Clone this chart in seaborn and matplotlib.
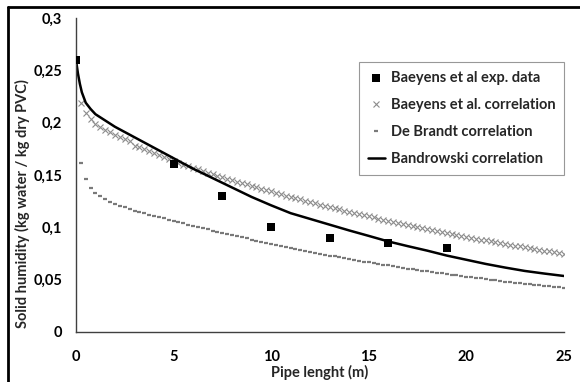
import numpy as np
import pandas as pd
import matplotlib
matplotlib.use("Agg")
import matplotlib.pyplot as plt
from matplotlib.lines import Line2D
import seaborn as sns

# ----------------------------
# DATA
# ----------------------------

# Baeyens et al experimental points
exp_x = [0, 5, 7.5, 10, 13, 16, 19]
exp_y = [0.26, 0.16, 0.13, 0.10, 0.09, 0.085, 0.08]

# both correlations are sampled every 0.25 m from 0.25 to 25 m
corr_x = np.arange(1, 101) * 0.25

baeyens_y = [
    0.219, 0.209, 0.203, 0.199, 0.196, 0.193, 0.191, 0.188, 0.186, 0.184,
    0.182, 0.178, 0.1765, 0.1745, 0.1725, 0.1705, 0.1687, 0.1668, 0.1649, 0.1630,
    0.1615, 0.1599, 0.1584, 0.1568, 0.1553, 0.1538, 0.1523, 0.1508, 0.1494, 0.1479,
    0.1465, 0.1450, 0.1436, 0.1422, 0.1409, 0.1395, 0.1382, 0.1368, 0.1355, 0.1342,
    0.1329, 0.1316, 0.1303, 0.1290, 0.1278, 0.1266, 0.1253, 0.1241, 0.1229, 0.1217,
    0.1205, 0.1193, 0.1182, 0.1171, 0.1159, 0.1148, 0.1137, 0.1126, 0.1115, 0.1104,
    0.1094, 0.1083, 0.1073, 0.1062, 0.1052, 0.1042, 0.1031, 0.1021, 0.1011, 0.1001,
    0.0992, 0.0982, 0.0973, 0.0964, 0.0954, 0.0945, 0.0936, 0.0927, 0.0918, 0.0909,
    0.0900, 0.0891, 0.0883, 0.0874, 0.0866, 0.0858, 0.0849, 0.0841, 0.0833, 0.0825,
    0.0817, 0.0809, 0.0801, 0.0794, 0.0786, 0.0778, 0.0770, 0.0763, 0.0755, 0.0748,
]

debrandt_y = [
    0.161, 0.146, 0.138, 0.133, 0.130, 0.127, 0.1245, 0.122, 0.1205, 0.119,
    0.1175, 0.116, 0.1148, 0.1135, 0.1122, 0.111, 0.1098, 0.1085, 0.1073, 0.106,
    0.1048, 0.1037, 0.1025, 0.1013, 0.1002, 0.0990, 0.0979, 0.0968, 0.0957, 0.0946,
    0.0936, 0.0925, 0.0914, 0.0903, 0.0893, 0.0882, 0.0872, 0.0862, 0.0851, 0.0841,
    0.0831, 0.0821, 0.0812, 0.0802, 0.0793, 0.0783, 0.0774, 0.0765, 0.0756, 0.0748,
    0.0739, 0.0730, 0.0722, 0.0714, 0.0705, 0.0697, 0.0689, 0.0681, 0.0673, 0.0665,
    0.0657, 0.0650, 0.0642, 0.0635, 0.0628, 0.0620, 0.0613, 0.0606, 0.0599, 0.0593,
    0.0586, 0.0579, 0.0573, 0.0566, 0.0560, 0.0553, 0.0547, 0.0540, 0.0534, 0.0528,
    0.0522, 0.0516, 0.0511, 0.0505, 0.0499, 0.0493, 0.0488, 0.0482, 0.0477, 0.0472,
    0.0466, 0.0461, 0.0456, 0.0451, 0.0445, 0.0440, 0.0435, 0.0430, 0.0425, 0.0420,
]

# Bandrowski correlation (solid line)
band_x = [0, 0.1, 0.2, 0.3, 0.5, 0.75, 1, 1.5, 2, 2.5, 3, 3.5, 4, 4.5, 5,
          6, 7, 8, 9, 10, 11, 12, 13, 14, 15, 16, 17, 18, 19, 20, 21, 22, 23, 24, 25]
band_y = [0.26, 0.247, 0.237, 0.229, 0.219, 0.213, 0.208, 0.202, 0.196, 0.191,
          0.186, 0.181, 0.176, 0.171, 0.166, 0.156, 0.147, 0.138, 0.129, 0.121,
          0.1135, 0.108, 0.1025, 0.097, 0.0918, 0.0865, 0.082, 0.0777, 0.073, 0.069,
          0.065, 0.0615, 0.0583, 0.0558, 0.0535]

x_ticks = [0, 5, 10, 15, 20, 25]
y_ticks = [0, 0.05, 0.1, 0.15, 0.2, 0.25, 0.3]
y_tick_labels = ["0", "0,05", "0,1", "0,15", "0,2", "0,25", "0,3"]

# ----------------------------
# PLOT
# ----------------------------

sns.set_style("white")
plt.rcParams['font.family'] = ['Lato', 'DejaVu Sans']

fig = plt.figure(figsize=(5.8, 3.82), dpi=100)
ax = fig.add_axes([0.131, 0.131, 0.841, 0.822])

sns.lineplot(x=corr_x, y=baeyens_y, ax=ax, linestyle="none", marker="x",
             markersize=5, markeredgewidth=0.8, markeredgecolor="#8c8c8c",
             color="#8c8c8c", label="Baeyens et al. correlation")
sns.lineplot(x=corr_x, y=debrandt_y, ax=ax, linestyle="none", marker="_",
             markersize=3.2, markeredgewidth=1.6, markeredgecolor="#7a7a7a",
             color="#7a7a7a", label="De Brandt correlation")
sns.lineplot(x=band_x, y=band_y, ax=ax, color="black", linewidth=1.8,
             label="Bandrowski correlation")
sns.scatterplot(x=exp_x, y=exp_y, ax=ax, marker="s", s=30, color="black",
                edgecolor="black", linewidth=0, zorder=5,
                label="Baeyens et al exp. data")

ax.set_xlim(0, 25)
ax.set_ylim(0, 0.3)
ax.set_xticks(x_ticks)
ax.set_xticklabels([str(t) for t in x_ticks])
ax.set_yticks(y_ticks)
ax.set_yticklabels(y_tick_labels)

for side in ["top", "right"]:
    ax.spines[side].set_visible(False)
for side in ["left", "bottom"]:
    ax.spines[side].set_color("#404040")
    ax.spines[side].set_linewidth(1.0)

ax.tick_params(axis="both", direction="out", length=4, width=1, color="#404040",
               labelsize=10.5, labelcolor="black")
ax.tick_params(axis="x", pad=9)
ax.tick_params(axis="y", pad=6)
for lab in ax.get_xticklabels() + ax.get_yticklabels():
    lab.set_fontweight("bold")

ax.set_xlabel("Pipe lenght (m)", fontsize=10.5, fontweight="bold")
ax.set_ylabel("Solid humidity (kg water / kg dry PVC)", fontsize=10.5, fontweight="bold")
ax.xaxis.set_label_coords(0.5, -0.105)
ax.yaxis.set_label_coords(-0.095, 0.41)

# legend order as in the figure
handles, labels = ax.get_legend_handles_labels()
order = ["Baeyens et al exp. data", "Baeyens et al. correlation",
         "De Brandt correlation", "Bandrowski correlation"]
hmap = dict(zip(labels, handles))
leg = ax.legend([hmap[k] for k in order], order, loc="upper left",
                bbox_to_anchor=(0.58, 0.86), frameon=True, fancybox=False,
                edgecolor="#7f7f7f", prop={"weight": "bold", "size": 10.5},
                handlelength=1.2, handletextpad=0.4, labelspacing=0.9,
                borderpad=0.6, borderaxespad=0)
leg.get_frame().set_linewidth(0.8)

# outer chart frame (left and top edges visible)
fig.add_artist(Line2D([0.0138, 0.0138], [0, 0.982], color="black", linewidth=2,
                      transform=fig.transFigure))
fig.add_artist(Line2D([0.0138, 1], [0.982, 0.982], color="black", linewidth=2,
                      transform=fig.transFigure))

fig.savefig("out.png", dpi=100)
